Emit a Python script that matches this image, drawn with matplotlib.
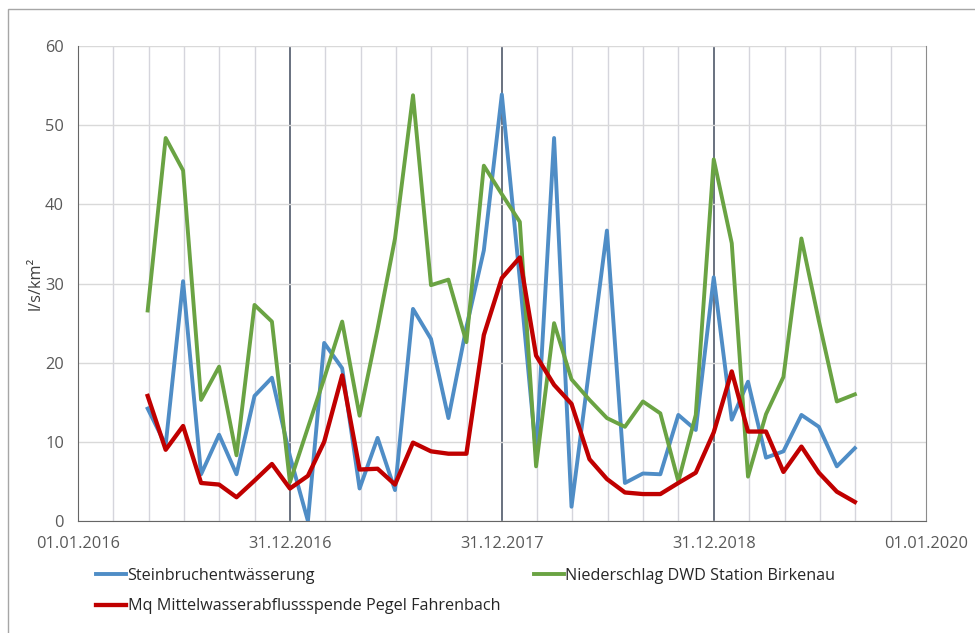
import matplotlib
matplotlib.use('Agg')
import matplotlib.pyplot as plt
import matplotlib.dates as mdates
from matplotlib.patches import Rectangle
import numpy as np
import pandas as pd

plt.rcParams['font.family'] = ['Open Sans', 'DejaVu Sans']

# Monatswerte (Monatsende) April 2016 - August 2019
dates = pd.date_range('2016-04-30', '2019-08-31', freq='ME')

stein = [14.2, 9.6, 30.3, 5.9, 10.9, 5.9, 15.8, 18.1, 8.2,
         0.0, 22.5, 19.3, 4.1, 10.5, 3.9, 26.8, 23.0, 13.0, 24.5, 34.2, 53.9,
         30.5, 8.5, 48.4, 1.8, 19.5, 36.7, 4.8, 6.0, 5.9, 13.4, 11.5, 30.8,
         12.8, 17.6, 8.0, 8.8, 13.4, 11.9, 6.9, 9.2]
nieder = [26.6, 48.4, 44.3, 15.3, 19.5, 8.3, 27.3, 25.2, 4.9,
          11.8, 18.0, 25.2, 13.3, 24.3, 35.7, 53.8, 29.8, 30.5, 22.6, 44.9, 41.3,
          37.8, 6.9, 25.0, 17.9, 15.3, 13.0, 11.9, 15.1, 13.6, 5.0, 13.4, 45.7,
          35.1, 5.6, 13.5, 18.2, 35.7, 25.3, 15.1, 16.0]
mq = [15.8, 9.0, 12.0, 4.8, 4.6, 3.0, 5.1, 7.2, 4.1,
      5.7, 10.0, 18.4, 6.5, 6.6, 4.6, 9.9, 8.8, 8.5, 8.5, 23.5, 30.7,
      33.3, 20.9, 17.2, 14.8, 7.8, 5.3, 3.6, 3.4, 3.4, 4.8, 6.1, 11.2,
      18.9, 11.3, 11.3, 6.2, 9.4, 6.1, 3.7, 2.4]

tick_dates = pd.to_datetime(['2016-01-01', '2016-12-31', '2017-12-31', '2018-12-31', '2020-01-01'])
tick_labels = ['01.01.2016', '31.12.2016', '31.12.2017', '31.12.2018', '01.01.2020']

fig = plt.figure(figsize=(9.75, 6.33), dpi=100)
ax = fig.add_axes([0.080, 0.177, 0.870, 0.750])

# grauer Rahmen um das Diagramm (nur oben und links sichtbar)
fig.patches.append(Rectangle((8 / 975, -0.05), 1.2, 1.05 - 9 / 633,
                             transform=fig.transFigure, fill=False,
                             edgecolor='#a6a6a6', linewidth=1.0, zorder=0))

l1, = ax.plot(dates, stein, color='#4f8dc6', linewidth=2.8, zorder=3)
l2, = ax.plot(dates, nieder, color='#6aa343', linewidth=2.8, zorder=4)
l3, = ax.plot(dates, mq, color='#c00000', linewidth=3.1, zorder=5)

tnum = mdates.date2num(tick_dates)
ax.set_xlim(tnum[0], tnum[-1])
ax.set_ylim(0, 60)
ax.set_xticks(tnum)
ax.set_xticklabels(tick_labels)
minor = np.concatenate([np.linspace(tnum[i], tnum[i + 1], 7)[1:-1] for i in range(len(tnum) - 1)])
ax.set_xticks(minor, minor=True)
ax.set_yticks(range(0, 61, 10))

ax.grid(True, which='minor', axis='x', color='#d5d5dc', linewidth=1.0, zorder=0)
ax.grid(True, which='major', axis='y', color='#d9d9d9', linewidth=1.0, zorder=0)
for t in tnum[1:-1]:
    ax.axvline(t, color='#5d6675', linewidth=1.3, zorder=1)

ax.spines['top'].set_visible(False)
ax.spines['left'].set_color('#666666')
ax.spines['bottom'].set_color('#666666')
ax.spines['right'].set_color('#8c8c8c')
ax.tick_params(which='both', length=0, labelsize=11.8, colors='#595959')
ax.tick_params(axis='x', pad=11)
ax.tick_params(axis='y', pad=10)
ax.set_ylabel('l/s/km²', fontsize=11.8, color='#404040', labelpad=1)

leg = fig.legend([l1, l3, l2],
                 ['Steinbruchentwässerung',
                  'Mq Mittelwasserabflussspende Pegel Fahrenbach',
                  'Niederschlag DWD Station Birkenau'],
                 ncol=2, loc='upper left', bbox_to_anchor=(0.092, 0.113),
                 frameon=False, fontsize=11.6, handlelength=1.85, handletextpad=0.1,
                 labelspacing=0.9, columnspacing=2.1, borderaxespad=0)
for txt in leg.get_texts():
    txt.set_color('#262626')

fig.savefig('out.png', dpi=100)
